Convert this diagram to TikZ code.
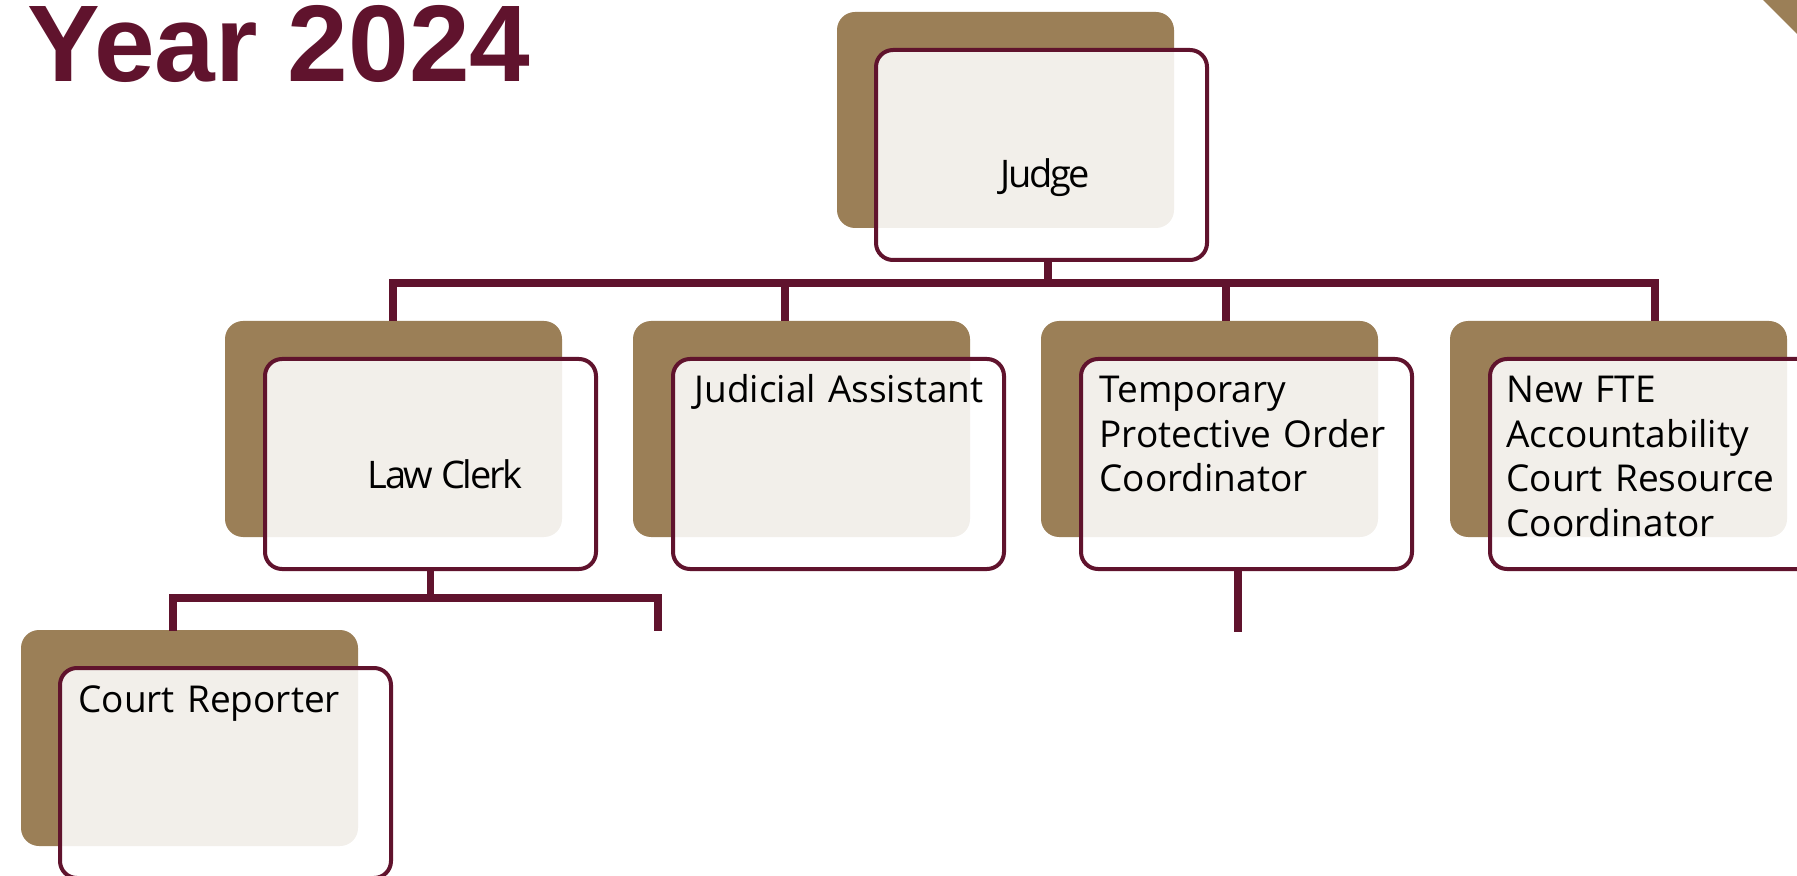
\documentclass[tikz,border=0pt]{standalone}
\usepackage{fontspec}
\setmainfont{Open Sans}
\newfontfamily\titlefont{Liberation Sans}
\newfontfamily\tightfont[LetterSpace=-6]{Open Sans}
\definecolor{boxbrown}{RGB}{155,127,87}
\definecolor{lineplum}{RGB}{96,19,45}
\begin{document}
\begin{tikzpicture}[x=0.5pt,y=-0.5pt,line join=miter,
	shadowbox/.style={fill=boxbrown,rounded corners=9pt,minimum width=168.5pt,minimum height=108pt,inner sep=0pt,outer sep=0pt,anchor=north west},
	cardbox/.style={draw=lineplum,line width=2pt,fill=white,fill opacity=0.88,rounded corners=8.5pt,minimum width=165.5pt,minimum height=105pt,inner sep=0pt,anchor=north west},
	lbl/.style={font=\fontsize{18.5}{22.25}\selectfont,inner sep=0pt,text width=160pt,align=left,anchor=base west},
	tight/.style={font=\tightfont\fontsize{19}{22.25}\selectfont,inner sep=0pt,anchor=base},
	orgline/.style={draw=lineplum,line width=3.75pt}]
	\useasboundingbox (0,0) rectangle (1797,876);
	\clip (0,0) rectangle (1797,876);
	% title and corner
	\node[anchor=base west,inner sep=0pt,text=lineplum,font=\titlefont\bfseries\fontsize{54.5}{60}\selectfont] (title) at (27,82) {Year 2024};
	\fill[boxbrown] (1763,0) -- (1797,0) -- (1797,34) -- cycle;
	% boxes
	\node[shadowbox] (bjudge) at (837,12) {};
	\node[cardbox] (judge) at (874,48) {};
	\foreach \n/\x in {clerk/225,assist/633,temp/1041,fte/1450}{
		\node[shadowbox] (b\n) at (\x,321) {};
		\node[cardbox] (\n) at (\x+38,357) {};
	}
	\node[shadowbox] (breporter) at (21,630) {};
	\node[cardbox] (reporter) at (58,666) {};
	% connectors
	\coordinate (jstem) at (1048,283);
	\coordinate (s1) at (393,321);
	\coordinate (s2) at (785,321);
	\coordinate (s3) at (1226,321);
	\coordinate (s4) at (1655,321);
	\draw[orgline] (jstem) -- (jstem |- judge.south);
	\draw[orgline] (s1) |- (jstem) -| (s4);
	\foreach \s in {s2,s3}\draw[orgline] (\s) -- (\s |- jstem);
	\coordinate (cstem) at (430,598);
	\coordinate (c1) at (173,631);
	\coordinate (c2) at (658,631);
	\draw[orgline] (clerk.south) -- (clerk.south |- cstem);
	\draw[orgline] (c1) |- (cstem) -| (c2);
	\coordinate (t1) at (1238,632);
	\draw[orgline] (t1 |- temp.south) -- (t1);
	% labels
	\node[tight] (judgeT) at (1045,188) {Judge};
	\node[tight] (clerkT) at (445,488) {Law Clerk};
	\node[lbl] (assistT) at (694,403) {Judicial Assistant};
	\node[lbl] (tempT) at (1099,403) {Temporary\\Protective Order\\Coordinator};
	\node[lbl] (fteT) at (1506,403) {New FTE\\Accountability\\Court Resource\\Coordinator};
	\node[lbl] (reporterT) at (78,712) {Court Reporter};
\end{tikzpicture}
\end{document}
